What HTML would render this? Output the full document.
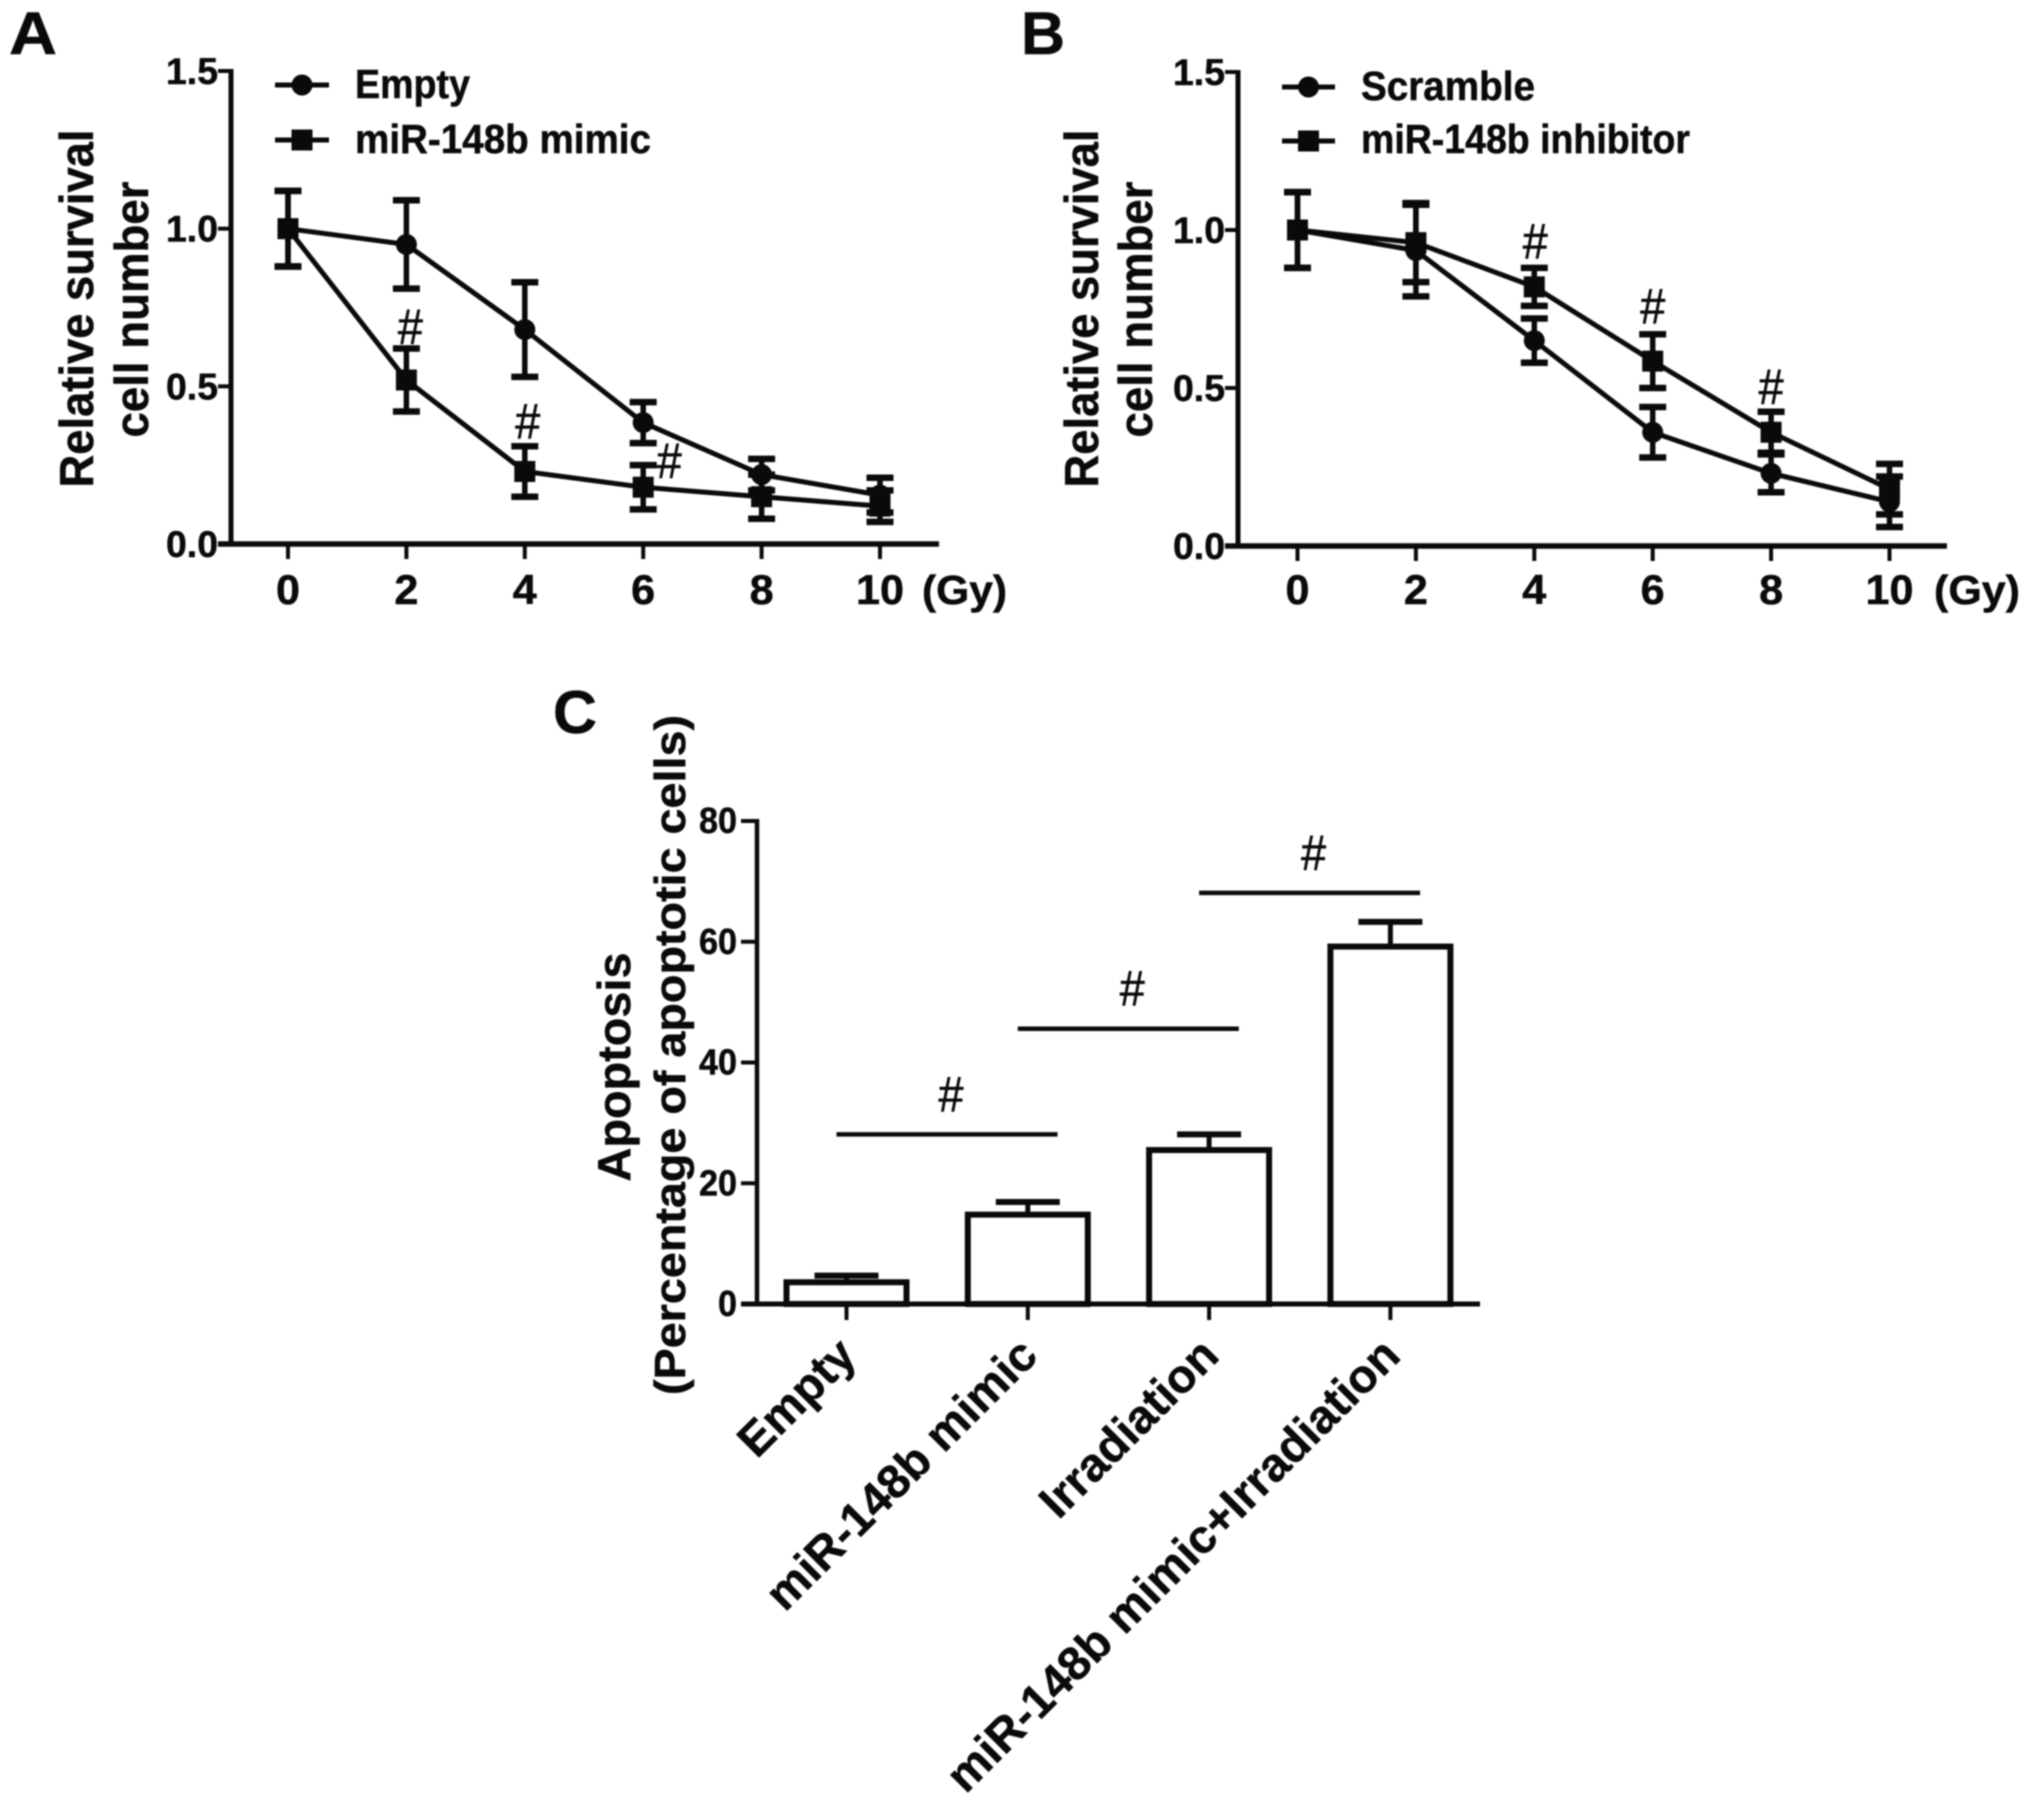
<!DOCTYPE html>
<html>
<head>
<meta charset="utf-8">
<title>Survival and apoptosis charts</title>
<style>
html,body{margin:0;padding:0;background:#fff;}
#figure{display:block;width:2031px;height:1809px;filter:blur(0.8px);}
text{font-family:"Liberation Sans",sans-serif;font-weight:bold;fill:#0a0a0a;stroke:#0a0a0a;stroke-width:0.5px;}
.hash{font-weight:normal;stroke-width:0.6px;}
</style>
</head>
<body>
<svg id="figure" xmlns="http://www.w3.org/2000/svg" width="2031" height="1809" viewBox="0 0 2031 1809">
<rect width="2031" height="1809" fill="#fff"/>
<text x="9" y="54" font-size="60" textLength="48" lengthAdjust="spacingAndGlyphs">A</text>
<text x="1021" y="54" font-size="60" textLength="44" lengthAdjust="spacingAndGlyphs">B</text>
<text x="553" y="733" font-size="60" textLength="44" lengthAdjust="spacingAndGlyphs">C</text>

<text transform="translate(93,308.5) rotate(-90)" text-anchor="middle" font-size="47" textLength="358" lengthAdjust="spacingAndGlyphs">Relative survival</text>
<text transform="translate(148,309.5) rotate(-90)" text-anchor="middle" font-size="47" textLength="256" lengthAdjust="spacingAndGlyphs">cell number</text>
<text transform="translate(1098,308.5) rotate(-90)" text-anchor="middle" font-size="47" textLength="358" lengthAdjust="spacingAndGlyphs">Relative survival</text>
<text transform="translate(1152,309.5) rotate(-90)" text-anchor="middle" font-size="47" textLength="256" lengthAdjust="spacingAndGlyphs">cell number</text>
<text transform="translate(630,1067) rotate(-90)" text-anchor="middle" font-size="46" textLength="229" lengthAdjust="spacingAndGlyphs">Apoptosis</text>
<text transform="translate(685,1055) rotate(-90)" text-anchor="middle" font-size="44" textLength="680" lengthAdjust="spacingAndGlyphs">(Percentage of apoptotic cells)</text>

<text x="922" y="604" font-size="41" textLength="85" lengthAdjust="spacingAndGlyphs">(Gy)</text>
<text x="1934" y="604" font-size="41" textLength="86" lengthAdjust="spacingAndGlyphs">(Gy)</text>

<text x="355" y="98" font-size="41" textLength="115" lengthAdjust="spacingAndGlyphs">Empty</text>
<text x="355" y="153" font-size="41" textLength="296" lengthAdjust="spacingAndGlyphs">miR-148b mimic</text>
<text x="1361" y="100" font-size="41" textLength="174" lengthAdjust="spacingAndGlyphs">Scramble</text>
<text x="1361" y="153" font-size="41" textLength="329" lengthAdjust="spacingAndGlyphs">miR-148b inhibitor</text>

<g id="layer-a"></g>
<g id="layer-b"></g>
<g id="layer-c"></g>
</svg>
<script>
// Shared x axis for the dose-response panels
const doses = [0, 2, 4, 6, 8, 10];
const survivalTicks = [0, 0.5, 1, 1.5];

// Panel A
const emptyMeans = [1, 0.95, 0.68, 0.385, 0.22, 0.155];
const emptyErrors = [0.12, 0.14, 0.15, 0.065, 0.05, 0.055];
const mimicMeans = [1, 0.52, 0.23, 0.18, 0.15, 0.12];
const mimicErrors = [0.12, 0.10, 0.08, 0.07, 0.07, 0.05];
const mimicSignificantDoses = [2, 4, 6];
const mimicSignificantLevels = [0.635, 0.335, 0.21];

// Panel B
const scrambleMeans = [1, 0.935, 0.65, 0.36, 0.23, 0.14];
const scrambleErrors = [0.12, 0.145, 0.07, 0.08, 0.06, 0.08];
const inhibitorMeans = [1, 0.96, 0.82, 0.585, 0.36, 0.18];
const inhibitorErrors = [0.12, 0.125, 0.06, 0.085, 0.065, 0.08];
const inhibitorSignificantDoses = [4, 6, 8];
const inhibitorSignificantLevels = [0.91, 0.704, 0.449];

// Panel C
const apoptosisCategories = ["Empty", "miR-148b mimic", "Irradiation", "miR-148b mimic+Irradiation"];
const apoptosisMeans = [3.6, 14.8, 25.5, 59.2];
const apoptosisErrors = [1.1, 2.1, 2.6, 4.1];
const apoptosisTicks = [0, 20, 40, 60, 80];
const bracketLevels = [28.1, 45.6, 68.1];

const NS = 'http://www.w3.org/2000/svg';
const INK = '#0a0a0a';

function make(parent, tag, attrs, text) {
  const el = document.createElementNS(NS, tag);
  for (const k in attrs) el.setAttribute(k, attrs[k]);
  if (text !== undefined) el.textContent = text;
  parent.appendChild(el);
  return el;
}
function seg(parent, x1, y1, x2, y2, w, name) {
  const el = make(parent, 'line', {x1: x1, y1: y1, x2: x2, y2: y2, stroke: INK, 'stroke-width': w});
  
  
  return el;
}
function marker(parent, x, y, shape, name) {
  let el;
  if (shape === 'circle') {
    el = make(parent, 'circle', {cx: x, cy: y, r: 10.5, fill: INK});
  } else {
    el = make(parent, 'rect', {x: x - 10.5, y: y - 10.5, width: 21, height: 21, fill: INK});
  }
  
  
}
function hash(parent, x, y, name) {
  const el = make(parent, 'text', {x: x, y: y, 'font-size': 50, 'text-anchor': 'middle', class: 'hash', textLength: 25, lengthAdjust: 'spacingAndGlyphs'}, '#');
  
  
}
function label(parent, x, y, size, anchor, width, str, name) {
  const el = make(parent, 'text', {x: x, y: y, 'font-size': size, 'text-anchor': anchor, textLength: width, lengthAdjust: 'spacingAndGlyphs'}, str);
  
  
}

function drawLinePanel(layer, prefix, frame, seriesList, sigDoses, sigLevels) {
  const g = document.getElementById(layer);
  const xScale = d => frame.x0 + (d / 10) * (frame.x10 - frame.x0);
  const yScale = v => frame.y0 - (v / 1.5) * (frame.y0 - frame.yTop);

  seg(g, frame.axisX, frame.yTop - 2, frame.axisX, frame.y0 + 2.5, 5, prefix + '-y-axis');
  seg(g, frame.axisX - 13, frame.y0, frame.xEnd, frame.y0, 5.5, prefix + '-x-axis');
  survivalTicks.forEach(t => {
    seg(g, frame.axisX - 13, yScale(t), frame.axisX, yScale(t), 4, prefix + '-y-tick-' + t);
    label(g, frame.axisX - 13, yScale(t) + 13, 37, 'end', 52, t.toFixed(1), prefix + '-y-tick-label-' + t);
  });
  doses.forEach(d => {
    seg(g, xScale(d), frame.y0, xScale(d), frame.y0 + 15, 4, prefix + '-x-tick-' + d);
    label(g, xScale(d), 604, 42, 'middle', d === 10 ? 48 : 24, String(d), prefix + '-x-tick-label-' + d);
  });

  seriesList.forEach(s => {
    const pts = s.means.map((m, i) => xScale(doses[i]) + ',' + yScale(m)).join(' ');
    const line = make(g, 'polyline', {points: pts, fill: 'none', stroke: INK, 'stroke-width': 5});
    
    
    s.means.forEach((m, i) => {
      const px = xScale(doses[i]);
      const hi = yScale(m + s.errors[i]);
      const lo = yScale(m - s.errors[i]);
      seg(g, px, hi, px, lo, 5.5, prefix + '-error-bar-' + s.key + '-' + doses[i]);
      seg(g, px - 13.5, hi, px + 13.5, hi, 6.5, prefix + '-error-cap-high-' + s.key + '-' + doses[i]);
      seg(g, px - 13.5, lo, px + 13.5, lo, 6.5, prefix + '-error-cap-low-' + s.key + '-' + doses[i]);
      marker(g, px, yScale(m), s.shape, prefix + '-point-' + s.key + '-' + doses[i]);
    });
    seg(g, frame.legendX1, s.legendY, frame.legendX2, s.legendY, 5, prefix + '-legend-line-' + s.key);
    marker(g, (frame.legendX1 + frame.legendX2) / 2, s.legendY, s.shape, prefix + '-legend-marker-' + s.key);
  });

  sigDoses.forEach((d, i) => {
    hash(g, xScale(d) + frame.hashShift[i], yScale(sigLevels[i]), prefix + '-significance-mark-' + d);
  });
}

drawLinePanel('layer-a', 'a',
  {axisX: 231, x0: 288, x10: 880, xEnd: 939, y0: 544, yTop: 71, legendX1: 275, legendX2: 329, hashShift: [4, 3, 26]},
  [
    {key: 'empty', means: emptyMeans, errors: emptyErrors, shape: 'circle', legendY: 85},
    {key: 'mimic', means: mimicMeans, errors: mimicErrors, shape: 'square', legendY: 140}
  ],
  mimicSignificantDoses, mimicSignificantLevels);

drawLinePanel('layer-b', 'b',
  {axisX: 1238, x0: 1297.5, x10: 1889.5, xEnd: 1947, y0: 546, yTop: 72, legendX1: 1282, legendX2: 1335, hashShift: [1, 0, 0]},
  [
    {key: 'scramble', means: scrambleMeans, errors: scrambleErrors, shape: 'circle', legendY: 87},
    {key: 'inhibitor', means: inhibitorMeans, errors: inhibitorErrors, shape: 'square', legendY: 141}
  ],
  inhibitorSignificantDoses, inhibitorSignificantLevels);

(function drawBars() {
  const g = document.getElementById('layer-c');
  const y0 = 1304, yTop = 821, axisX = 757, xEnd = 1480;
  const yScale = v => y0 - (v / 80) * (y0 - yTop);
  const xScale = i => 846.5 + i * 181.3;
  const barW = 120;
  const bracketSpan = 221;

  seg(g, axisX, yTop - 2, axisX, y0 + 2, 4.5, 'c-y-axis');
  apoptosisTicks.forEach(t => {
    seg(g, axisX - 16, yScale(t), axisX, yScale(t), 4, 'c-y-tick-' + t);
    label(g, axisX - 20, yScale(t) + 12, 36, 'end', t === 0 ? 19 : 38, String(t), 'c-y-tick-label-' + t);
  });

  apoptosisCategories.forEach((c, i) => {
    const cx = xScale(i);
    const top = yScale(apoptosisMeans[i]);
    const hi = yScale(apoptosisMeans[i] + apoptosisErrors[i]);
    seg(g, cx, top, cx, hi, 5, 'c-error-bar-' + i);
    seg(g, cx - 32, hi, cx + 32, hi, 6, 'c-error-cap-' + i);
    const bar = make(g, 'rect', {x: cx - barW / 2, y: top, width: barW, height: y0 - top, fill: '#fff', stroke: INK, 'stroke-width': 6});
    
    
    seg(g, cx, y0, cx, y0 + 16, 4, 'c-x-tick-' + i);
    const tl = make(g, 'text', {transform: 'translate(' + (cx + 12) + ',1358) rotate(-45)', 'text-anchor': 'end', 'font-size': 47}, c);
    
    
  });
  seg(g, axisX - 16, y0, xEnd, y0, 5, 'c-x-axis');

  bracketLevels.forEach((lvl, i) => {
    const left = xScale(i) - 10;
    const right = left + bracketSpan;
    seg(g, left, yScale(lvl), right, yScale(lvl), 4.5, 'c-significance-line-' + i);
    hash(g, (left + right) / 2 + 4, yScale(lvl) - 23, 'c-significance-mark-' + i);
  });
})();
</script>
</body>
</html>
